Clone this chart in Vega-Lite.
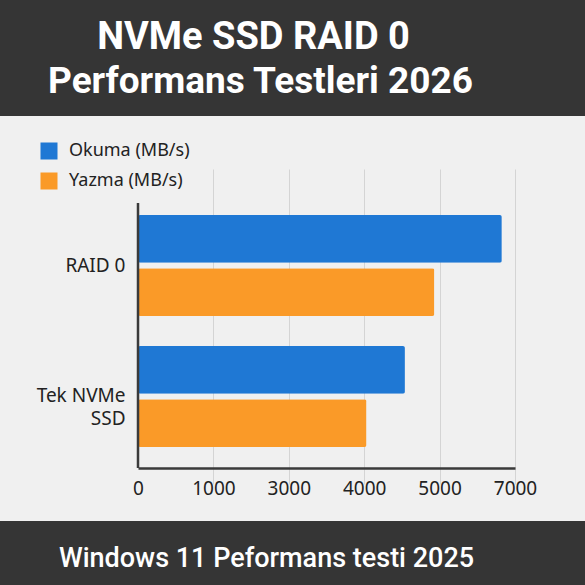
{
  "$schema": "https://vega.github.io/schema/vega-lite/v6.json",
  "background": "#f0f0f0",
  "padding": 0,
  "spacing": 0,
  "config": {"view": {"stroke": null}, "concat": {"spacing": 0}},
  "vconcat": [
    {
      "width": 585,
      "height": 116,
      "view": {"fill": "#353535", "stroke": null},
      "layer": [
        {
          "data": {"values": [{"t": "NVMe SSD RAID 0"}]},
          "mark": {"type": "text", "font": "Roboto", "fontWeight": "bold", "fontSize": 38, "color": "#ffffff", "baseline": "alphabetic", "align": "center", "dx": -39, "dy": -9},
          "encoding": {"text": {"field": "t"}}
        },
        {
          "data": {"values": [{"t": "Performans Testleri 2026"}]},
          "mark": {"type": "text", "font": "Roboto", "fontWeight": "bold", "fontSize": 37, "color": "#ffffff", "baseline": "alphabetic", "align": "center", "dx": -32, "dy": 35},
          "encoding": {"text": {"field": "t"}}
        }
      ]
    },
    {
      "width": 585,
      "height": 405,
      "layer": [
        {
          "data": {"values": [
            {"config": "RAID 0", "metric": "Okuma (MB/s)", "value": 6650},
            {"config": "RAID 0", "metric": "Yazma (MB/s)", "value": 4930},
            {"config": "Tek NVMe SSD", "metric": "Okuma (MB/s)", "value": 4540},
            {"config": "Tek NVMe SSD", "metric": "Yazma (MB/s)", "value": 4030}
          ]},
          "mark": {"type": "bar", "cornerRadius": 2},
          "encoding": {
            "y": {
              "field": "config", "type": "nominal", "sort": ["RAID 0", "Tek NVMe SSD"],
              "scale": {"range": [37, 352], "paddingInner": 0.229, "paddingOuter": 0.317, "align": 0.747},
              "axis": {"title": null, "orient": "left", "offset": -138, "domain": false, "ticks": false, "grid": false, "labelPadding": 13, "labelFont": "Noto Sans", "labelFontSize": 19, "labelColor": "#222222", "labelLineHeight": 23, "labelExpr": "datum.value == 'Tek NVMe SSD' ? ['Tek NVMe', 'SSD'] : datum.label"}
            },
            "yOffset": {"field": "metric", "type": "nominal", "sort": ["Okuma (MB/s)", "Yazma (MB/s)"], "scale": {"paddingInner": 0.1, "paddingOuter": 0}},
            "x": {
              "field": "value", "type": "quantitative",
              "scale": {"domain": [0, 1000, 3000, 4000, 5000, 7000], "range": [138, 213.4, 288.8, 364.2, 439.6, 515], "nice": false, "zero": false},
              "axis": {"title": null, "values": [0, 1000, 3000, 4000, 5000, 7000], "format": "d", "offset": -53, "domainColor": "#3a3a3a", "domainWidth": 2.5, "ticks": false, "tickSize": 0, "labelPadding": 11, "labelFont": "Noto Sans", "labelFontSize": 19, "labelColor": "#222222", "labelFlush": false, "labelOverlap": false, "gridColor": "#d4d4d4", "gridWidth": 1, "gridOpacity": {"expr": "datum.value === 0 ? 0 : 1"}}
            },
            "color": {
              "field": "metric", "type": "nominal",
              "scale": {"domain": ["Okuma (MB/s)", "Yazma (MB/s)"], "range": ["#1f78d4", "#fa9a28"]},
              "legend": {"title": null, "orient": "none", "legendX": 40, "legendY": 142, "padding": 0, "symbolType": "square", "symbolSize": 289, "symbolStrokeWidth": 0, "symbolOpacity": 1, "labelFont": "Noto Sans", "labelFontSize": 18, "labelColor": "#222222", "labelOffset": 11, "rowPadding": 12}
            }
          }
        },
        {
          "data": {"values": [{}]},
          "mark": {"type": "rule", "color": "#3a3a3a", "strokeWidth": 2.5},
          "encoding": {
            "x": {"datum": 0, "type": "quantitative"},
            "y": {"datum": "RAID 0", "bandPosition": -0.119},
            "y2": {"datum": "Tek NVMe SSD", "bandPosition": 1.208}
          }
        }
      ]
    },
    {
      "width": 585,
      "height": 64,
      "view": {"fill": "#353535", "stroke": null},
      "data": {"values": [{"t": "Windows 11 Peformans testi 2025"}]},
      "mark": {"type": "text", "font": "Roboto", "fontWeight": 500, "fontSize": 27, "color": "#ffffff", "baseline": "alphabetic", "align": "center", "dx": -26, "dy": 14},
      "encoding": {"text": {"field": "t"}}
    }
  ]
}
